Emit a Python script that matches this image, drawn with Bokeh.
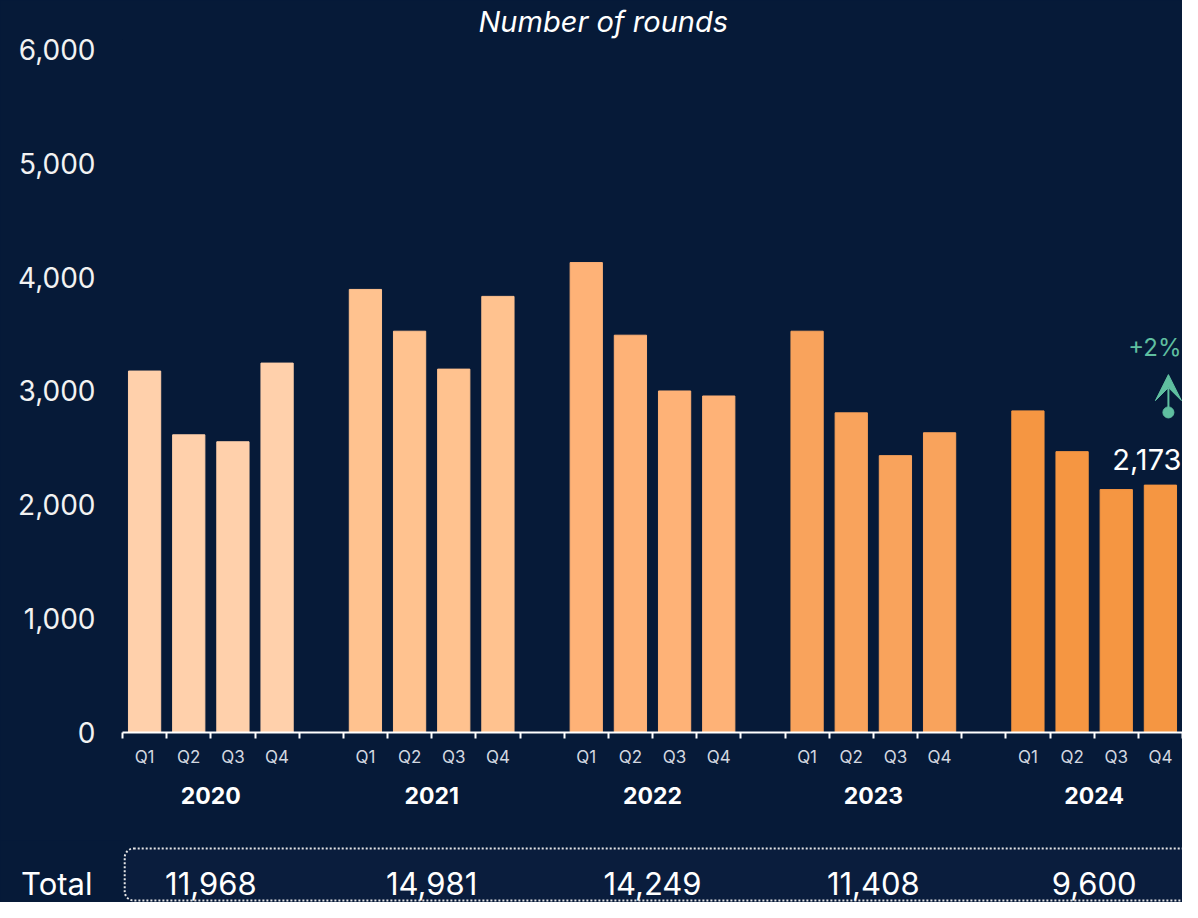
from bokeh.plotting import figure
from bokeh.models import (Range1d, FixedTicker, LinearAxis, NumeralTickFormatter,
                          ColumnDataSource, Arrow, VeeHead)
from bokeh.layouts import column
from bokeh.embed import file_html
from bokeh.resources import INLINE
from bokeh.core.properties import value

# ---------------- data ----------------
years = ["2020", "2021", "2022", "2023", "2024"]
quarters = ["Q1", "Q2", "Q3", "Q4"]
rounds_2020 = [3175, 2615, 2554, 3245]
rounds_2021 = [3892, 3525, 3192, 3831]
rounds_2022 = [4128, 3490, 3000, 2956]
rounds_2023 = [3525, 2808, 2432, 2633]
rounds_2024 = [2825, 2467, 2134, 2173]
totals = [11968, 14981, 14249, 11408, 9600]
y_ticks = [0, 1000, 2000, 3000, 4000, 5000, 6000]
last_label = "2,173"
change_label = "+2%"

series = [rounds_2020, rounds_2021, rounds_2022, rounds_2023, rounds_2024]
year_colors = ["#FFD0AB", "#FFC28F", "#FEB277", "#F9A35C", "#F59642"]

BG = "#061A38"
TEAL = "#5FBFA0"
FONT = "Inter"

# ---------------- layout constants ----------------
W = 1182
H_MAIN = 840
H_TOT = 62
FRAME_LEFT = 122
FRAME_TOP = 36
FRAME_BOTTOM = 108
SLOTS_PER_YEAR = 5          # 4 quarters + 1 gap
N_SLOTS = SLOTS_PER_YEAR * len(years) - 1
px_per_slot = (W - FRAME_LEFT) / N_SLOTS
frame_h = H_MAIN - FRAME_TOP - FRAME_BOTTOM
px_per_unit = 686 / 6000.0
y_end = frame_h / px_per_unit

# ---------------- bars ----------------
xs, tops, cols, qlabels = [], [], [], []
for yi, vals in enumerate(series):
    for qi, v in enumerate(vals):
        xs.append(yi * SLOTS_PER_YEAR + qi + 0.5)
        tops.append(v)
        cols.append(year_colors[yi])
        qlabels.append(quarters[qi])
src = ColumnDataSource(dict(x=xs, top=tops, color=cols))

xr = Range1d(0, N_SLOTS)
p = figure(width=W, height=H_MAIN, x_range=xr, y_range=Range1d(0, y_end),
           output_backend="svg", toolbar_location=None, x_axis_type=None,
           min_border_left=FRAME_LEFT, min_border_right=0,
           min_border_top=FRAME_TOP, min_border_bottom=FRAME_BOTTOM)
p.background_fill_color = BG
p.border_fill_color = BG
p.outline_line_color = None
p.grid.visible = False
p.styles = {"background-color": BG}

p.title.text = "Number of rounds"
p.title.align = "left"
p.title.offset = 356
p.title.text_font = FONT
p.title.text_font_style = "italic"
p.title.text_font_size = "29px"
p.title.text_color = "#FFFFFF"
p.title.standoff = 2

p.vbar(x="x", top="top", width=0.73, color="color", source=src)

# y axis
ya = p.yaxis[0]
ya.ticker = FixedTicker(ticks=y_ticks)
ya.formatter = NumeralTickFormatter(format="0,0")
ya.axis_line_color = None
ya.major_tick_line_color = None
ya.minor_tick_line_color = None
ya.major_tick_out = 0
ya.major_tick_in = 0
ya.major_label_standoff = 27
ya.major_label_text_font = FONT
ya.major_label_text_font_size = "28px"
ya.major_label_text_color = "#F2F2F2"

# quarter axis with boundary ticks
axq = LinearAxis(ticker=FixedTicker(ticks=xs, minor_ticks=list(range(0, N_SLOTS + 1))))
axq.major_label_overrides = {x: q for x, q in zip(xs, qlabels)}
axq.axis_line_color = "#FFFFFF"
axq.axis_line_width = 2
axq.major_tick_line_color = None
axq.major_tick_out = 0
axq.major_tick_in = 0
axq.minor_tick_line_color = "#FFFFFF"
axq.minor_tick_line_width = 2
axq.minor_tick_out = 6
axq.minor_tick_in = 0
axq.major_label_standoff = 8
axq.major_label_text_font = FONT
axq.major_label_text_font_size = "17px"
axq.major_label_text_color = "#D3D8E0"
p.add_layout(axq, "below")

# year axis
year_centers = [yi * SLOTS_PER_YEAR + 2 for yi in range(len(years))]
axy = LinearAxis(ticker=FixedTicker(ticks=year_centers))
axy.major_label_overrides = {x: y for x, y in zip(year_centers, years)}
axy.axis_line_color = None
axy.major_tick_line_color = None
axy.minor_tick_line_color = None
axy.major_tick_out = 0
axy.major_tick_in = 0
axy.major_label_standoff = 17
axy.major_label_text_font = FONT
axy.major_label_text_font_size = "23px"
axy.major_label_text_font_style = "bold"
axy.major_label_text_color = "#FFFFFF"
p.add_layout(axy, "below")

# annotation on last bar
last_x = xs[-1]
last_v = tops[-1]
p.text(x=[N_SLOTS], y=[last_v], text=[last_label], x_offset=-1, y_offset=-15,
       text_align="right", text_baseline="bottom", text_color="#FFFFFF",
       text_font=value(FONT), text_font_size="29px")
arrow_x = last_x + 8 / px_per_slot
a_start = last_v + 73 / px_per_unit
a_end = last_v + 111 / px_per_unit
p.add_layout(Arrow(x_start=arrow_x, y_start=a_start, x_end=arrow_x, y_end=a_end,
                   line_color=TEAL, line_width=2,
                   end=VeeHead(size=26, fill_color=TEAL, line_color=TEAL)))
p.scatter(x=[arrow_x], y=[a_start], size=11, color=TEAL)
p.text(x=[N_SLOTS], y=[last_v], text=[change_label], x_offset=-1, y_offset=-138,
       text_align="right", text_baseline="middle", text_color=TEAL,
       text_font=value(FONT), text_font_size="24px")

# ---------------- totals row ----------------
t = figure(width=W, height=H_TOT, x_range=xr, y_range=Range1d(0, H_TOT),
           output_backend="svg", toolbar_location=None, x_axis_type=None,
           min_border_left=FRAME_LEFT, min_border_right=0, min_border_top=0, min_border_bottom=0)
t.background_fill_color = BG
t.border_fill_color = BG
t.outline_line_color = None
t.grid.visible = False
t.styles = {"background-color": BG}
text_y = 19
ty = t.yaxis[0]
ty.ticker = FixedTicker(ticks=[text_y])
ty.major_label_overrides = {text_y: "Total"}
ty.axis_line_color = None
ty.major_tick_line_color = None
ty.minor_tick_line_color = None
ty.major_tick_out = 0
ty.major_tick_in = 0
ty.major_label_standoff = 30
ty.major_label_text_font = FONT
ty.major_label_text_font_size = "31px"
ty.major_label_text_color = "#FFFFFF"

t.quad(left=[0.05], right=[N_SLOTS + 0.6], bottom=[2], top=[54], border_radius=9,
       fill_color="#0A1D3D", line_color="#E6E6E6", line_width=2, line_dash="2 2")
t.text(x=year_centers, y=[text_y] * len(totals), text=[f"{v:,}" for v in totals],
       text_align="center", text_baseline="middle", text_color="#FFFFFF",
       text_font=value(FONT), text_font_size="31px")

layout = column(p, t, spacing=0, styles={"background-color": BG})
open("out.html", "w").write(file_html(layout, INLINE))
